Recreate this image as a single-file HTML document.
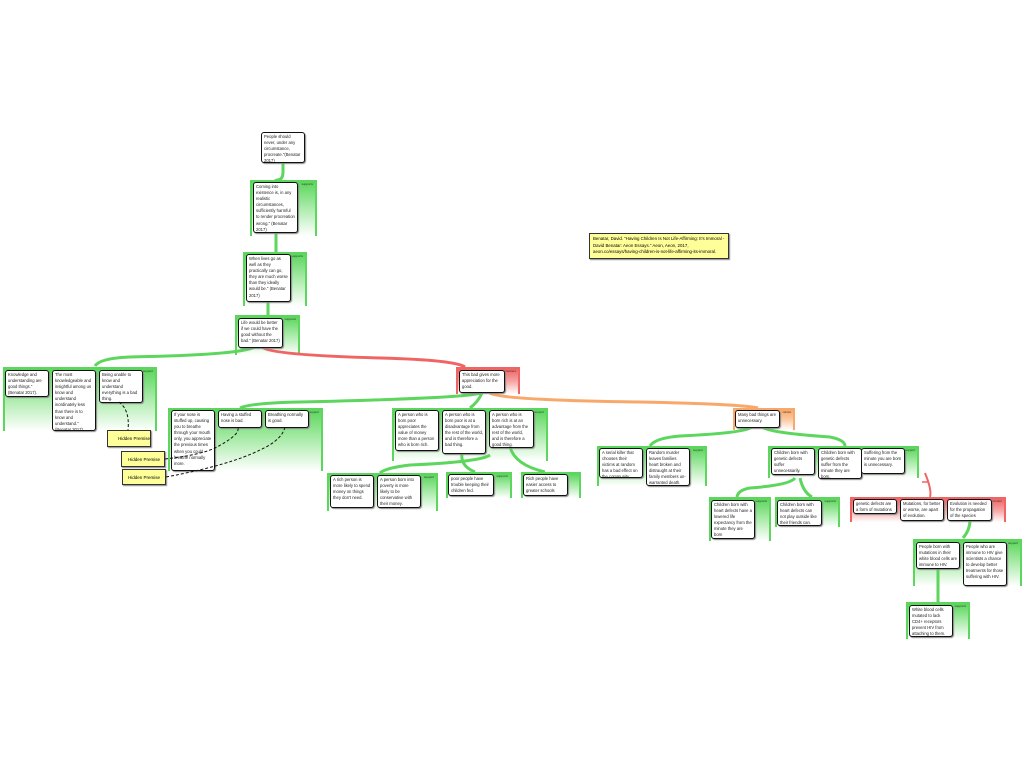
<!DOCTYPE html>
<html><head><meta charset="utf-8"><style>
body{margin:0;width:1024px;height:768px;background:#fff;position:relative;overflow:hidden;font-family:"Liberation Sans",sans-serif}
.g{position:absolute;z-index:0;border:2px solid #5cd65c;border-bottom:none;background:linear-gradient(to bottom,#5cd65c 0%,#a5eaa5 45%,#fff 100%);box-sizing:border-box}
.g.r{border-color:#f06464;background:linear-gradient(to bottom,#f06464 0%,#f7a5a5 50%,#fff 100%)}
.g.o{border-color:#f7a86a;background:linear-gradient(to bottom,#f7a86a 0%,#fbcba5 50%,#fff 100%)}
.g span{position:absolute;right:2px;top:0;font-size:3px;color:#333}
.b{position:absolute;z-index:2;background:#fff;border:1.3px solid #111;border-radius:3px;box-shadow:1px 1px 1px #888;box-sizing:border-box;padding:1px 2px;font-size:4.2px;line-height:6.1px;color:#222;overflow:hidden}
.n{position:absolute;z-index:2;background:#ffff99;border:1px solid #333;box-shadow:1px 1px 1px #888;font-size:4.5px;box-sizing:border-box}
svg{position:absolute;left:0;top:0}
</style></head><body>
<svg width="1024" height="768" fill="none" style="z-index:1">
<g stroke="#5cd65c" stroke-width="3">
<path d="M283 162 L283 172 Q283 180 277 180 L273 182"/>
<path d="M276 232 L276 252"/>
<path d="M268 301 L268 316"/>
<path d="M255 347 Q240 355 130 357 Q100 358 95 366"/>
<path d="M480 393 Q470 398 300 402 Q250 403 240 408"/>
<path d="M482 393 Q478 402 470 408"/>
<path d="M490 455 Q480 462 410 465 Q385 468 380 473"/>
<path d="M462 453 Q460 466 475 472"/>
<path d="M510 447 Q515 465 545 472"/>
<path d="M752 427 Q745 433 680 436 Q655 438 650 446"/>
<path d="M762 427 Q770 433 830 437 Q845 440 845 446"/>
<path d="M795 478 Q790 485 750 488 Q738 490 737 497"/>
<path d="M800 478 Q803 492 812 497"/>
<path d="M970 520 Q970 530 963 538"/>
<path d="M938 568 L938 602"/>
</g>
<path d="M262 347 Q270 355 380 358 Q455 360 465 367" stroke="#f06464" stroke-width="3"/>
<path d="M925 473 Q932 490 930 497" stroke="#f06464" stroke-width="2"/>
<path d="M922 482 L928 482" stroke="#f06464" stroke-width="1.5"/>
<path d="M490 393 Q500 400 640 402 Q740 404 758 408" stroke="#f7a86a" stroke-width="3"/>
</svg>
<svg width="1024" height="768" fill="none" style="z-index:3">
<g stroke="#111" stroke-width="1" stroke-dasharray="3,2">
<path d="M119 402 Q130 410 128 430"/>
<path d="M165 459 Q200 455 215 448 Q240 435 238 428"/>
<path d="M166 477 Q230 465 260 450 Q282 440 285 427"/>
</g>
</svg>

<div class="g" style="left:250px;top:180px;width:67px;height:56px"><span>supports</span></div>
<div class="g" style="left:243px;top:252px;width:64px;height:54px"><span>supports</span></div>
<div class="g" style="left:235px;top:315px;width:65px;height:40px"><span>supports</span></div>
<div class="g" style="left:3px;top:367px;width:154px;height:64px"><span>support</span></div>
<div class="g r" style="left:456px;top:367px;width:64px;height:27px"><span>counters</span></div>
<div class="g" style="left:168px;top:408px;width:155px;height:63px"><span>support</span></div>
<div class="g" style="left:392px;top:408px;width:156px;height:53px"><span>support</span></div>
<div class="g o" style="left:733px;top:408px;width:62px;height:22px"><span>rebuts</span></div>
<div class="g" style="left:327px;top:473px;width:111px;height:38px"><span>support</span></div>
<div class="g" style="left:446px;top:472px;width:66px;height:26px"><span>supports</span></div>
<div class="g" style="left:521px;top:472px;width:60px;height:26px"></div>
<div class="g" style="left:597px;top:446px;width:110px;height:40px"><span>support</span></div>
<div class="g" style="left:768px;top:446px;width:151px;height:32px"><span>support</span></div>
<div class="g" style="left:709px;top:497px;width:62px;height:44px"><span>supports</span></div>
<div class="g" style="left:775px;top:497px;width:65px;height:30px"><span>supports</span></div>
<div class="g r" style="left:850px;top:497px;width:156px;height:25px"><span>counter</span></div>
<div class="g" style="left:913px;top:539px;width:109px;height:47px"><span>support</span></div>
<div class="g" style="left:906px;top:602px;width:64px;height:37px"><span>supports</span></div>

<div class="b" style="left:261px;top:132px;width:44px;height:31px">People should never, under any circumstance, procreate."(Benatar 2017)</div>
<div class="b" style="left:253px;top:182px;width:45px;height:51px">Coming into existence is, in any realistic circumstances, sufficiently harmful to render procreation wrong." (Benatar 2017)</div>
<div class="b" style="left:246px;top:254px;width:45px;height:48px">When lives go as well as they practically can go, they are much worse than they ideally would be." (Benatar 2017)</div>
<div class="b" style="left:238px;top:318px;width:45px;height:30px">Life would be better if we could have the good without the bad." (Benatar 2017)</div>
<div class="b" style="left:5px;top:370px;width:44px;height:27px">Knowledge and understanding are good things." (Benatar 2017).</div>
<div class="b" style="left:52px;top:370px;width:44px;height:61px">The most knowledgeable and insightful among us know and understand inordinately less than there is to know and understand." (Benatar 2017)</div>
<div class="b" style="left:99px;top:370px;width:44px;height:33px">Being unable to know and understand everything is a bad thing.</div>
<div class="b" style="left:459px;top:370px;width:46px;height:23px">This bad gives more appreciation for the good.</div>
<div class="b" style="left:171px;top:410px;width:44px;height:61px">If your nose is stuffed up, causing you to breathe through your mouth only, you appreciate the previous times when you could breathe normally more.</div>
<div class="b" style="left:218px;top:410px;width:44px;height:18px">Having a stuffed nose is bad.</div>
<div class="b" style="left:265px;top:410px;width:44px;height:18px">Breathing normally is good.</div>
<div class="b" style="left:395px;top:410px;width:44px;height:41px">A person who is born poor appreciates the value of money more than a person who is born rich.</div>
<div class="b" style="left:442px;top:410px;width:44px;height:44px">A person who is born poor is at a disadvantage from the rest of the world, and is therefore a bad thing.</div>
<div class="b" style="left:489px;top:410px;width:45px;height:38px">A person who is born rich is at an advantage from the rest of the world, and is therefore a good thing.</div>
<div class="b" style="left:735px;top:410px;width:45px;height:18px">Many bad things are unnecessary.</div>
<div class="b" style="left:330px;top:475px;width:44px;height:33px">A rich person is more likely to spend money on things they don't need.</div>
<div class="b" style="left:377px;top:475px;width:44px;height:33px">A person born into poverty is more likely to be conservative with their money.</div>
<div class="b" style="left:448px;top:474px;width:46px;height:22px">poor people have trouble keeping their children fed.</div>
<div class="b" style="left:523px;top:474px;width:45px;height:22px">Rich people have easier access to greater schools</div>
<div class="b" style="left:599px;top:448px;width:44px;height:30px">A serial killer that chooses their victims at random has a bad effect on the community.</div>
<div class="b" style="left:646px;top:448px;width:44px;height:38px">Random murder leaves families heart broken and distraught at their family members un-warranted death.</div>
<div class="b" style="left:771px;top:448px;width:44px;height:27px">Children born with genetic defects suffer unnecessarily.</div>
<div class="b" style="left:818px;top:448px;width:44px;height:31px">Children born with genetic defects suffer from the minute they are born.</div>
<div class="b" style="left:861px;top:448px;width:44px;height:26px">Suffering from the minute you are born is unnecessary.</div>
<div class="b" style="left:711px;top:500px;width:44px;height:39px">Children born with heart defects have a lowered life expectancy from the minute they are born</div>
<div class="b" style="left:777px;top:500px;width:45px;height:26px">Children born with heart defects can not play outside like their friends can.</div>
<div class="b" style="left:853px;top:499px;width:44px;height:15px">genetic defects are a form of mutations</div>
<div class="b" style="left:900px;top:499px;width:44px;height:22px">Mutations, for better or worse, are apart of evolution.</div>
<div class="b" style="left:947px;top:499px;width:45px;height:22px">Evolution is needed for the propagation of the species</div>
<div class="b" style="left:916px;top:542px;width:44px;height:27px">People born with mutations in their white blood cells are immune to HIV.</div>
<div class="b" style="left:963px;top:542px;width:44px;height:44px">People who are immune to HIV give scientists a chance to develop better treatments for those suffering with HIV.</div>
<div class="b" style="left:909px;top:605px;width:44px;height:32px">White blood cells mutated to lack CD4+ receptors prevent HIV from attaching to them.</div>

<div class="n" style="left:107px;top:430px;width:44px;height:17px;padding:5px 0 0 10px">Hidden Premise</div>
<div class="n" style="left:121px;top:451px;width:44px;height:16px;padding:5px 0 0 6px">Hidden Premise</div>
<div class="n" style="left:122px;top:469px;width:44px;height:16px;padding:5px 0 0 5px">Hidden Premise</div>
<div class="n" style="left:589px;top:233px;width:140px;height:26px;padding:2px 3px;font-size:4.4px;line-height:6.5px">Benatar, David. "Having Children Is Not Life-Affirming: It's Immoral - David Benatar: Aeon Essays." Aeon, Aeon, 2017, aeon.co/essays/having-children-is-not-life-affirming-its-immoral.</div>
</body></html>
